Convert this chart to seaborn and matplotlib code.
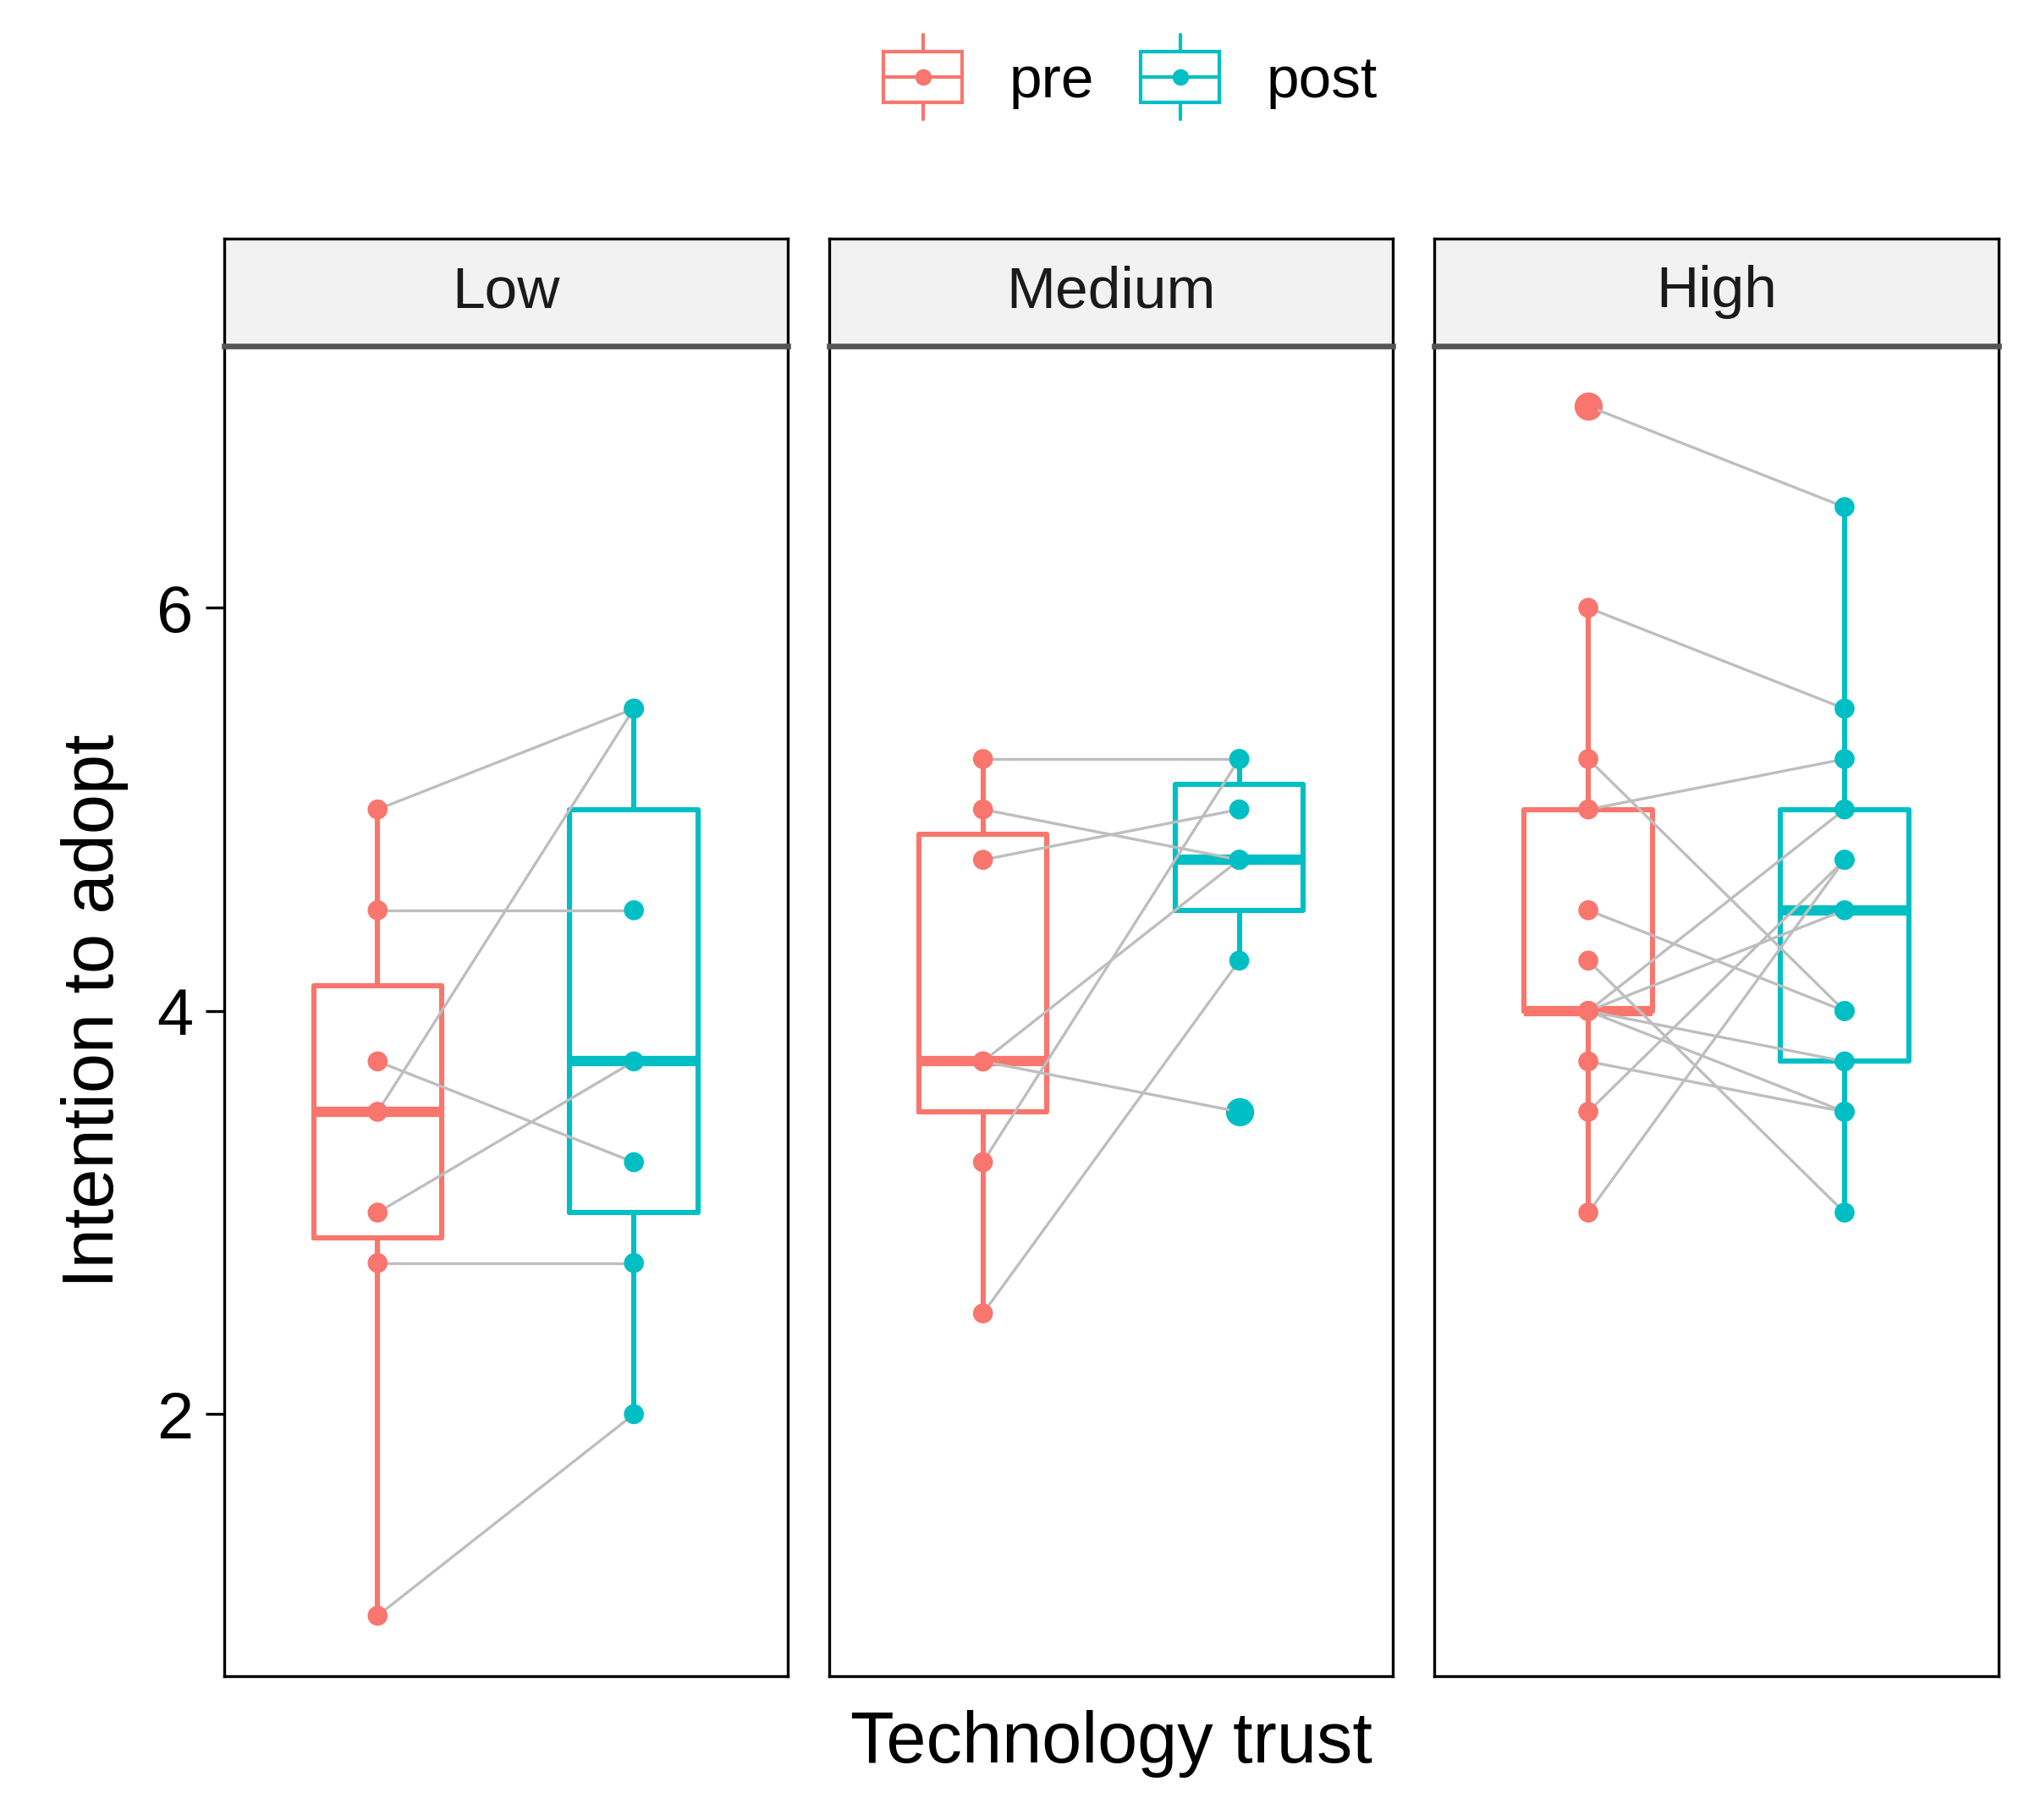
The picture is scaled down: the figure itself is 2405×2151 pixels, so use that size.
import pandas as pd
import numpy as np
import matplotlib.pyplot as plt
import seaborn as sns
from matplotlib.patches import Patch, Rectangle
from matplotlib.lines import Line2D
from matplotlib.legend_handler import HandlerBase

# facets and time points
trust_levels = ["Low", "Medium", "High"]
times = ["pre", "post"]

# paired scores, same subject at the same index
low_pre = [5.0, 4.5, 3.75, 3.5, 3.0, 2.75, 1.0]
low_post = [5.5, 4.5, 3.25, 5.5, 3.75, 2.75, 2.0]

med_pre = [5.25, 5.0, 4.75, 3.75, 3.75, 3.25, 2.5]
med_post = [5.25, 4.75, 5.0, 4.75, 3.5, 5.25, 4.25]

high_pre = [7.0, 6.0, 5.25, 5.0, 4.5, 4.25, 4.0, 4.0, 4.0, 4.0, 3.75, 3.5, 3.0]
high_post = [6.5, 5.5, 4.0, 5.25, 4.0, 3.0, 5.0, 4.5, 3.5, 3.75, 3.5, 4.75, 4.75]

colors = {"pre": "#F8766D", "post": "#00BFC4"}

rows = []
for level, pre, post in zip(trust_levels, [low_pre, med_pre, high_pre], [low_post, med_post, high_post]):
    for i, (a, b) in enumerate(zip(pre, post)):
        rows.append((level, level + str(i), "pre", 0, a))
        rows.append((level, level + str(i), "post", 1, b))
df = pd.DataFrame(rows, columns=["trust", "id", "time", "pos", "value"])


class BoxKey(HandlerBase):
    # ggplot style boxplot key: box, whisker, median and a dot
    def create_artists(self, legend, orig_handle, xdescent, ydescent, width, height, fontsize, trans):
        c = orig_handle.get_edgecolor()
        x0, y0 = -xdescent, -ydescent
        cx, cy = x0 + width / 2, y0 + height / 2
        whisk = Line2D([cx, cx], [y0 - 0.32 * height, y0 + 1.32 * height], color=c, lw=1.5, transform=trans)
        box = Rectangle((x0, y0), width, height, facecolor="white", edgecolor=c, lw=1.5, transform=trans)
        mid = Line2D([x0, x0 + width], [cy, cy], color=c, lw=1.5, transform=trans)
        dot = Line2D([cx], [cy], marker="o", markersize=6, color=c, linestyle="none", transform=trans)
        return [whisk, box, mid, dot]


sns.set_style("white")
plt.rcParams['font.family'] = ['Liberation Sans', 'DejaVu Sans']
plt.rcParams['text.color'] = 'black'
plt.rcParams['axes.labelcolor'] = 'black'
plt.rcParams['ytick.color'] = 'black'

fig, axes = plt.subplots(1, 3, figsize=(12.025, 10.755), dpi=200, sharey=True)
fig.subplots_adjust(left=0.110, right=0.982, bottom=0.079, top=0.810, wspace=0.0736)

for ax, level in zip(axes, trust_levels):
    sub = df[df.trust == level]
    sns.boxplot(data=sub, x="time", y="value", hue="time", order=times, hue_order=times,
                palette=colors, fill=False, width=0.5, linewidth=2.2, showcaps=False,
                medianprops={"linewidth": 4.4}, flierprops={"marker": "o", "markersize": 11},
                ax=ax, legend=False, zorder=2)
    # filled outlier dots like ggplot
    for ln in ax.lines:
        if ln.get_marker() == "o":
            ln.set_markerfacecolor(ln.get_markeredgecolor())
    sns.lineplot(data=sub, x="pos", y="value", units="id", estimator=None, color="#bebebe",
                 linewidth=1.2, ax=ax, legend=False, zorder=3)
    sns.stripplot(data=sub, x="time", y="value", hue="time", order=times, hue_order=times,
                  palette=colors, jitter=False, size=8.5, linewidth=0, ax=ax, legend=False, zorder=4)

    ax.set_xlim(-0.6, 1.6)
    ax.set_ylim(0.7, 7.3)
    ax.set_xticks([])
    ax.set_xlabel("")
    ax.set_ylabel("")
    for s in ax.spines.values():
        s.set_visible(True)
        s.set_color("black")
        s.set_linewidth(1.2)

    # facet strip
    p = ax.get_position()
    sax = fig.add_axes([p.x0, p.y1, p.width, 0.059])
    sax.set_facecolor("#F2F2F2")
    sax.set_xticks([])
    sax.set_yticks([])
    for s in sax.spines.values():
        s.set_color("black")
        s.set_linewidth(1.2)
    sax.spines["bottom"].set_color("#555555")
    sax.spines["bottom"].set_linewidth(2.4)
    sax.text(0.5, 0.5, level, ha="center", va="center", fontsize=25, color="#1a1a1a",
             transform=sax.transAxes)

axes[0].set_yticks([2, 4, 6])
axes[0].tick_params(axis="y", left=True, length=8, width=1.2, color="black", labelsize=28, pad=5)
axes[0].set_ylabel("Intention to adopt", fontsize=30.5, labelpad=12)
for ax in axes[1:]:
    ax.tick_params(axis="y", left=False, labelleft=False)

fig.text(0.546, 0.042, "Technology trust", ha="center", va="center", fontsize=30.5)

handles = [Patch(facecolor="white", edgecolor=colors[t]) for t in times]
fig.legend(handles, times, loc="center", bbox_to_anchor=(0.5555, 0.956), ncol=2, frameon=False,
           fontsize=25, handler_map={Patch: BoxKey()},
           handlelength=1.33, handleheight=0.97, handletextpad=0.8, columnspacing=0.8)

plt.savefig("out.png", dpi=200)
plt.close()
